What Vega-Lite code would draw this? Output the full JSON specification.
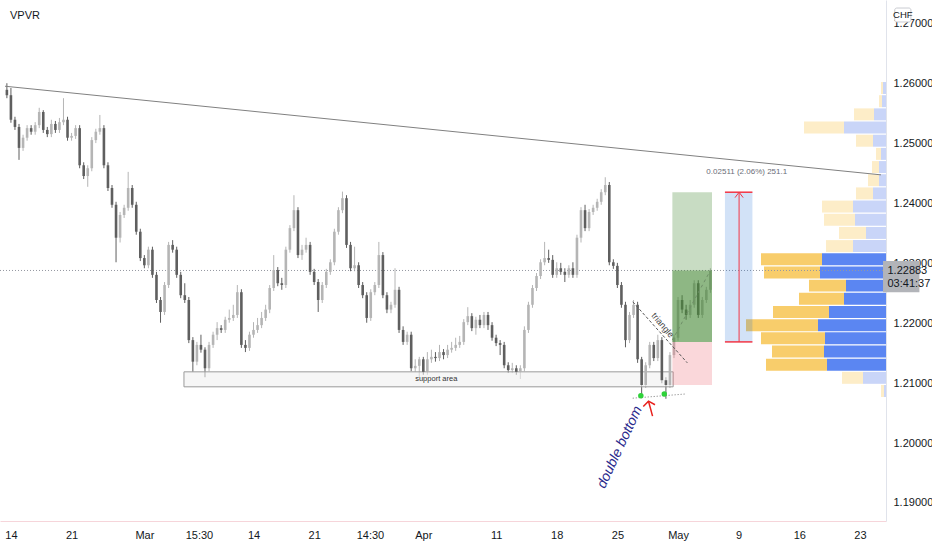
{
"$schema": "https://vega.github.io/schema/vega-lite/v6.json",
"width": 886, "height": 521,
"autosize": {"type": "none"},
"padding": {"left": 0, "top": 0, "right": 46, "bottom": 29},
"background": "#ffffff",
"config": {"view": {"stroke": null}, "font": "Liberation Sans Narrow, Liberation Sans, sans-serif", "axis": {"title": null, "grid": false}},
"datasets": {
"candles": [
{"t":0,"o":1.2590,"h":1.2601,"l":1.2576,"c":1.2581},
{"t":1,"o":1.2581,"h":1.2593,"l":1.2535,"c":1.2540},
{"t":2,"o":1.2540,"h":1.2545,"l":1.2523,"c":1.2528},
{"t":3,"o":1.2528,"h":1.2533,"l":1.2473,"c":1.2493},
{"t":4,"o":1.2493,"h":1.2515,"l":1.2488,"c":1.2510},
{"t":5,"o":1.2510,"h":1.2531,"l":1.2505,"c":1.2526},
{"t":6,"o":1.2526,"h":1.2531,"l":1.2515,"c":1.2520},
{"t":7,"o":1.2520,"h":1.2536,"l":1.2515,"c":1.2531},
{"t":8,"o":1.2531,"h":1.2560,"l":1.2526,"c":1.2553},
{"t":9,"o":1.2553,"h":1.2556,"l":1.2518,"c":1.2523},
{"t":10,"o":1.2523,"h":1.2528,"l":1.2511,"c":1.2516},
{"t":11,"o":1.2516,"h":1.2540,"l":1.2511,"c":1.2533},
{"t":12,"o":1.2533,"h":1.2538,"l":1.2518,"c":1.2523},
{"t":13,"o":1.2523,"h":1.2543,"l":1.2518,"c":1.2536},
{"t":14,"o":1.2536,"h":1.2576,"l":1.2531,"c":1.2540},
{"t":15,"o":1.2540,"h":1.2545,"l":1.2505,"c":1.2510},
{"t":16,"o":1.2510,"h":1.2518,"l":1.2505,"c":1.2513},
{"t":17,"o":1.2513,"h":1.2531,"l":1.2508,"c":1.2526},
{"t":18,"o":1.2526,"h":1.2531,"l":1.2459,"c":1.2464},
{"t":19,"o":1.2464,"h":1.2469,"l":1.2441,"c":1.2446},
{"t":20,"o":1.2446,"h":1.2464,"l":1.2428,"c":1.2459},
{"t":21,"o":1.2459,"h":1.2511,"l":1.2454,"c":1.2506},
{"t":22,"o":1.2506,"h":1.2525,"l":1.2501,"c":1.2520},
{"t":23,"o":1.2520,"h":1.2548,"l":1.2515,"c":1.2526},
{"t":24,"o":1.2526,"h":1.2531,"l":1.2459,"c":1.2464},
{"t":25,"o":1.2464,"h":1.2469,"l":1.2421,"c":1.2426},
{"t":26,"o":1.2426,"h":1.2431,"l":1.2393,"c":1.2398},
{"t":27,"o":1.2398,"h":1.2403,"l":1.2302,"c":1.2343},
{"t":28,"o":1.2343,"h":1.2386,"l":1.2335,"c":1.2381},
{"t":29,"o":1.2381,"h":1.2398,"l":1.2376,"c":1.2393},
{"t":30,"o":1.2393,"h":1.2453,"l":1.2388,"c":1.2426},
{"t":31,"o":1.2426,"h":1.2431,"l":1.2393,"c":1.2398},
{"t":32,"o":1.2398,"h":1.2403,"l":1.2348,"c":1.2353},
{"t":33,"o":1.2353,"h":1.2358,"l":1.2304,"c":1.2309},
{"t":34,"o":1.2309,"h":1.2314,"l":1.2292,"c":1.2297},
{"t":35,"o":1.2297,"h":1.2328,"l":1.2292,"c":1.2323},
{"t":36,"o":1.2323,"h":1.2328,"l":1.2276,"c":1.2281},
{"t":37,"o":1.2281,"h":1.2286,"l":1.2234,"c":1.2239},
{"t":38,"o":1.2239,"h":1.2244,"l":1.2201,"c":1.2219},
{"t":39,"o":1.2219,"h":1.2269,"l":1.2214,"c":1.2264},
{"t":40,"o":1.2264,"h":1.2336,"l":1.2259,"c":1.2331},
{"t":41,"o":1.2331,"h":1.2339,"l":1.2318,"c":1.2323},
{"t":42,"o":1.2323,"h":1.2328,"l":1.2276,"c":1.2281},
{"t":43,"o":1.2281,"h":1.2286,"l":1.2242,"c":1.2247},
{"t":44,"o":1.2247,"h":1.2267,"l":1.2234,"c":1.2239},
{"t":45,"o":1.2239,"h":1.2244,"l":1.2167,"c":1.2172},
{"t":46,"o":1.2172,"h":1.2177,"l":1.2119,"c":1.2136},
{"t":47,"o":1.2136,"h":1.2169,"l":1.2130,"c":1.2164},
{"t":48,"o":1.2164,"h":1.2181,"l":1.2151,"c":1.2156},
{"t":49,"o":1.2156,"h":1.2160,"l":1.2110,"c":1.2125},
{"t":50,"o":1.2125,"h":1.2169,"l":1.2120,"c":1.2164},
{"t":51,"o":1.2164,"h":1.2186,"l":1.2159,"c":1.2181},
{"t":52,"o":1.2181,"h":1.2202,"l":1.2172,"c":1.2192},
{"t":53,"o":1.2192,"h":1.2197,"l":1.2184,"c":1.2189},
{"t":54,"o":1.2189,"h":1.2211,"l":1.2184,"c":1.2206},
{"t":55,"o":1.2206,"h":1.2223,"l":1.2201,"c":1.2209},
{"t":56,"o":1.2209,"h":1.2231,"l":1.2204,"c":1.2214},
{"t":57,"o":1.2214,"h":1.2264,"l":1.2209,"c":1.2252},
{"t":58,"o":1.2252,"h":1.2257,"l":1.2159,"c":1.2164},
{"t":59,"o":1.2164,"h":1.2172,"l":1.2152,"c":1.2159},
{"t":60,"o":1.2159,"h":1.2186,"l":1.2154,"c":1.2181},
{"t":61,"o":1.2181,"h":1.2202,"l":1.2176,"c":1.2189},
{"t":62,"o":1.2189,"h":1.2209,"l":1.2184,"c":1.2197},
{"t":63,"o":1.2197,"h":1.2219,"l":1.2192,"c":1.2209},
{"t":64,"o":1.2209,"h":1.2231,"l":1.2204,"c":1.2223},
{"t":65,"o":1.2223,"h":1.2264,"l":1.2217,"c":1.2259},
{"t":66,"o":1.2259,"h":1.2314,"l":1.2254,"c":1.2289},
{"t":67,"o":1.2289,"h":1.2294,"l":1.2262,"c":1.2267},
{"t":68,"o":1.2267,"h":1.2276,"l":1.2256,"c":1.2264},
{"t":69,"o":1.2264,"h":1.2328,"l":1.2259,"c":1.2323},
{"t":70,"o":1.2323,"h":1.2364,"l":1.2318,"c":1.2359},
{"t":71,"o":1.2359,"h":1.2414,"l":1.2354,"c":1.2389},
{"t":72,"o":1.2389,"h":1.2394,"l":1.2309,"c":1.2314},
{"t":73,"o":1.2314,"h":1.2331,"l":1.2306,"c":1.2323},
{"t":74,"o":1.2323,"h":1.2343,"l":1.2318,"c":1.2331},
{"t":75,"o":1.2331,"h":1.2336,"l":1.2281,"c":1.2286},
{"t":76,"o":1.2286,"h":1.2291,"l":1.2264,"c":1.2269},
{"t":77,"o":1.2269,"h":1.2274,"l":1.2219,"c":1.2239},
{"t":78,"o":1.2239,"h":1.2269,"l":1.2234,"c":1.2264},
{"t":79,"o":1.2264,"h":1.2291,"l":1.2259,"c":1.2286},
{"t":80,"o":1.2286,"h":1.2307,"l":1.2281,"c":1.2302},
{"t":81,"o":1.2302,"h":1.2358,"l":1.2297,"c":1.2353},
{"t":82,"o":1.2353,"h":1.2394,"l":1.2348,"c":1.2389},
{"t":83,"o":1.2389,"h":1.2420,"l":1.2384,"c":1.2409},
{"t":84,"o":1.2409,"h":1.2414,"l":1.2326,"c":1.2331},
{"t":85,"o":1.2331,"h":1.2336,"l":1.2287,"c":1.2292},
{"t":86,"o":1.2292,"h":1.2328,"l":1.2287,"c":1.2297},
{"t":87,"o":1.2297,"h":1.2302,"l":1.2259,"c":1.2264},
{"t":88,"o":1.2264,"h":1.2269,"l":1.2242,"c":1.2247},
{"t":89,"o":1.2247,"h":1.2252,"l":1.2201,"c":1.2209},
{"t":90,"o":1.2209,"h":1.2257,"l":1.2204,"c":1.2252},
{"t":91,"o":1.2252,"h":1.2269,"l":1.2247,"c":1.2264},
{"t":92,"o":1.2264,"h":1.2336,"l":1.2259,"c":1.2314},
{"t":93,"o":1.2314,"h":1.2319,"l":1.2242,"c":1.2247},
{"t":94,"o":1.2247,"h":1.2252,"l":1.2217,"c":1.2223},
{"t":95,"o":1.2223,"h":1.2236,"l":1.2217,"c":1.2231},
{"t":96,"o":1.2231,"h":1.2292,"l":1.2226,"c":1.2256},
{"t":97,"o":1.2256,"h":1.2261,"l":1.2184,"c":1.2189},
{"t":98,"o":1.2189,"h":1.2195,"l":1.2164,"c":1.2169},
{"t":99,"o":1.2169,"h":1.2186,"l":1.2164,"c":1.2181},
{"t":100,"o":1.2181,"h":1.2186,"l":1.2120,"c":1.2125},
{"t":101,"o":1.2125,"h":1.2140,"l":1.2119,"c":1.2129},
{"t":102,"o":1.2129,"h":1.2144,"l":1.2110,"c":1.2140},
{"t":103,"o":1.2140,"h":1.2144,"l":1.2114,"c":1.2119},
{"t":104,"o":1.2119,"h":1.2152,"l":1.2114,"c":1.2140},
{"t":105,"o":1.2140,"h":1.2156,"l":1.2134,"c":1.2144},
{"t":106,"o":1.2144,"h":1.2152,"l":1.2136,"c":1.2142},
{"t":107,"o":1.2142,"h":1.2164,"l":1.2137,"c":1.2152},
{"t":108,"o":1.2152,"h":1.2157,"l":1.2140,"c":1.2147},
{"t":109,"o":1.2147,"h":1.2164,"l":1.2142,"c":1.2156},
{"t":110,"o":1.2156,"h":1.2169,"l":1.2151,"c":1.2159},
{"t":111,"o":1.2159,"h":1.2176,"l":1.2154,"c":1.2164},
{"t":112,"o":1.2164,"h":1.2179,"l":1.2159,"c":1.2169},
{"t":113,"o":1.2169,"h":1.2207,"l":1.2164,"c":1.2202},
{"t":114,"o":1.2202,"h":1.2227,"l":1.2197,"c":1.2212},
{"t":115,"o":1.2212,"h":1.2217,"l":1.2187,"c":1.2192},
{"t":116,"o":1.2192,"h":1.2211,"l":1.2181,"c":1.2206},
{"t":117,"o":1.2206,"h":1.2214,"l":1.2192,"c":1.2197},
{"t":118,"o":1.2197,"h":1.2219,"l":1.2192,"c":1.2214},
{"t":119,"o":1.2214,"h":1.2219,"l":1.2189,"c":1.2197},
{"t":120,"o":1.2197,"h":1.2202,"l":1.2171,"c":1.2176},
{"t":121,"o":1.2176,"h":1.2181,"l":1.2162,"c":1.2167},
{"t":122,"o":1.2167,"h":1.2172,"l":1.2147,"c":1.2164},
{"t":123,"o":1.2164,"h":1.2169,"l":1.2125,"c":1.2130},
{"t":124,"o":1.2130,"h":1.2135,"l":1.2117,"c":1.2122},
{"t":125,"o":1.2122,"h":1.2134,"l":1.2117,"c":1.2125},
{"t":126,"o":1.2125,"h":1.2130,"l":1.2114,"c":1.2119},
{"t":127,"o":1.2119,"h":1.2130,"l":1.2107,"c":1.2125},
{"t":128,"o":1.2125,"h":1.2195,"l":1.2120,"c":1.2189},
{"t":129,"o":1.2189,"h":1.2236,"l":1.2184,"c":1.2231},
{"t":130,"o":1.2231,"h":1.2264,"l":1.2226,"c":1.2259},
{"t":131,"o":1.2259,"h":1.2284,"l":1.2254,"c":1.2279},
{"t":132,"o":1.2279,"h":1.2307,"l":1.2274,"c":1.2302},
{"t":133,"o":1.2302,"h":1.2336,"l":1.2297,"c":1.2309},
{"t":134,"o":1.2309,"h":1.2323,"l":1.2301,"c":1.2306},
{"t":135,"o":1.2306,"h":1.2314,"l":1.2276,"c":1.2281},
{"t":136,"o":1.2281,"h":1.2302,"l":1.2276,"c":1.2292},
{"t":137,"o":1.2292,"h":1.2301,"l":1.2281,"c":1.2286},
{"t":138,"o":1.2286,"h":1.2292,"l":1.2269,"c":1.2281},
{"t":139,"o":1.2281,"h":1.2297,"l":1.2276,"c":1.2292},
{"t":140,"o":1.2292,"h":1.2302,"l":1.2276,"c":1.2281},
{"t":141,"o":1.2281,"h":1.2348,"l":1.2276,"c":1.2343},
{"t":142,"o":1.2343,"h":1.2394,"l":1.2335,"c":1.2389},
{"t":143,"o":1.2389,"h":1.2398,"l":1.2354,"c":1.2359},
{"t":144,"o":1.2359,"h":1.2391,"l":1.2354,"c":1.2386},
{"t":145,"o":1.2386,"h":1.2398,"l":1.2381,"c":1.2393},
{"t":146,"o":1.2393,"h":1.2408,"l":1.2388,"c":1.2403},
{"t":147,"o":1.2403,"h":1.2424,"l":1.2398,"c":1.2419},
{"t":148,"o":1.2419,"h":1.2444,"l":1.2414,"c":1.2431},
{"t":149,"o":1.2431,"h":1.2436,"l":1.2297,"c":1.2302},
{"t":150,"o":1.2302,"h":1.2307,"l":1.2291,"c":1.2296},
{"t":151,"o":1.2296,"h":1.2301,"l":1.2259,"c":1.2264},
{"t":152,"o":1.2264,"h":1.2269,"l":1.2226,"c":1.2231},
{"t":153,"o":1.2231,"h":1.2236,"l":1.2160,"c":1.2172},
{"t":154,"o":1.2172,"h":1.2219,"l":1.2167,"c":1.2214},
{"t":155,"o":1.2214,"h":1.2239,"l":1.2209,"c":1.2231},
{"t":156,"o":1.2231,"h":1.2236,"l":1.2134,"c":1.2140},
{"t":157,"o":1.2140,"h":1.2144,"l":1.2075,"c":1.2097},
{"t":158,"o":1.2097,"h":1.2135,"l":1.2092,"c":1.2130},
{"t":159,"o":1.2130,"h":1.2169,"l":1.2125,"c":1.2164},
{"t":160,"o":1.2164,"h":1.2169,"l":1.2137,"c":1.2142},
{"t":161,"o":1.2142,"h":1.2181,"l":1.2137,"c":1.2172},
{"t":162,"o":1.2172,"h":1.2177,"l":1.2100,"c":1.2105},
{"t":163,"o":1.2105,"h":1.2110,"l":1.2074,"c":1.2097},
{"t":164,"o":1.2097,"h":1.2152,"l":1.2092,"c":1.2147},
{"t":165,"o":1.2147,"h":1.2181,"l":1.2142,"c":1.2176},
{"t":166,"o":1.2176,"h":1.2244,"l":1.2171,"c":1.2239},
{"t":167,"o":1.2239,"h":1.2247,"l":1.2217,"c":1.2223},
{"t":168,"o":1.2223,"h":1.2231,"l":1.2206,"c":1.2214},
{"t":169,"o":1.2214,"h":1.2239,"l":1.2209,"c":1.2231},
{"t":170,"o":1.2231,"h":1.2272,"l":1.2226,"c":1.2267},
{"t":171,"o":1.2267,"h":1.2272,"l":1.2209,"c":1.2214},
{"t":172,"o":1.2214,"h":1.2244,"l":1.2209,"c":1.2239},
{"t":173,"o":1.2239,"h":1.2261,"l":1.2234,"c":1.2256},
{"t":174,"o":1.2256,"h":1.2292,"l":1.2251,"c":1.22883}
],
"vp": [
{"hi":1.2603,"lo":1.2583,"b":3,"tot":5,"va":false},
{"hi":1.2581,"lo":1.2561,"b":4,"tot":7,"va":false},
{"hi":1.2559,"lo":1.2539,"b":12,"tot":32,"va":false},
{"hi":1.2537,"lo":1.2517,"b":42,"tot":82,"va":false},
{"hi":1.2515,"lo":1.2495,"b":13,"tot":30,"va":false},
{"hi":1.2493,"lo":1.2473,"b":5,"tot":10,"va":false},
{"hi":1.2471,"lo":1.2451,"b":7,"tot":14,"va":false},
{"hi":1.2449,"lo":1.2429,"b":7,"tot":18,"va":false},
{"hi":1.2427,"lo":1.2407,"b":13,"tot":30,"va":false},
{"hi":1.2405,"lo":1.2385,"b":33,"tot":64,"va":false},
{"hi":1.2383,"lo":1.2363,"b":31,"tot":62,"va":false},
{"hi":1.2361,"lo":1.2341,"b":20,"tot":47,"va":false},
{"hi":1.2339,"lo":1.2319,"b":33,"tot":60,"va":false},
{"hi":1.2317,"lo":1.2297,"b":64,"tot":125,"va":true},
{"hi":1.2295,"lo":1.2275,"b":66,"tot":122,"va":true},
{"hi":1.2273,"lo":1.2253,"b":40,"tot":77,"va":true},
{"hi":1.2251,"lo":1.2231,"b":42,"tot":87,"va":true},
{"hi":1.2229,"lo":1.2209,"b":57,"tot":113,"va":true},
{"hi":1.2207,"lo":1.2187,"b":68,"tot":140,"va":true},
{"hi":1.2185,"lo":1.2165,"b":61,"tot":125,"va":true},
{"hi":1.2163,"lo":1.2143,"b":62,"tot":114,"va":true},
{"hi":1.2141,"lo":1.2121,"b":59,"tot":120,"va":true},
{"hi":1.2119,"lo":1.2099,"b":23,"tot":44,"va":false},
{"hi":1.2097,"lo":1.2077,"b":2,"tot":5,"va":false}
]
},
"layer": [
{"layer": [
 {"data": {"name": "vp"}, "mark": {"type": "rect"},
  "encoding": {
   "x": {"field": "b", "type": "quantitative", "scale": {"domain": [0, 886], "reverse": true, "nice": false, "zero": false}, "axis": null},
   "x2": {"datum": 0},
   "y": {"field": "lo", "type": "quantitative", "scale": {"domain": [1.18699, 1.274], "nice": false, "zero": false}},
   "y2": {"field": "hi"},
   "color": {"condition": {"test": "datum.va", "value": "#5b86f2"}, "value": "#c9d5f8"}}},
 {"data": {"name": "vp"}, "mark": {"type": "rect"},
  "encoding": {
   "x": {"field": "b", "type": "quantitative", "scale": {"domain": [0, 886], "reverse": true, "nice": false, "zero": false}, "axis": null},
   "x2": {"field": "tot"},
   "y": {"field": "lo", "type": "quantitative", "scale": {"domain": [1.18699, 1.274], "nice": false, "zero": false}},
   "y2": {"field": "hi"},
   "color": {"condition": {"test": "datum.va", "value": "#f8cd6b"}, "value": "#fdedc8"}}}
]},
{"layer": [
 {"data": {"name": "candles"}, "mark": {"type": "rule", "strokeWidth": 1},
  "encoding": {
   "x": {"field": "t", "type": "quantitative", "scale": {"domain": [-0.465, 216.2], "nice": false, "zero": false},
     "axis": {"orient": "bottom", "values": [1,16,34,47.5,61,76,89.8,103,121,136,151,166,181,196,211],
       "labelExpr": "['14','21','Mar','15:30','14','21','14:30','Apr','11','18','25','May','9','16','23'][indexof([1,16,34,47.5,61,76,89.8,103,121,136,151,166,181,196,211], datum.value)]",
       "ticks": false, "domainColor": "#f6d5da", "labelColor": "#131722", "labelFontSize": 11, "labelPadding": 8,
       "labelOverlap": false, "labelFlush": false, "labelBound": false, "grid": false, "title": null}},
   "y": {"field": "l", "type": "quantitative", "scale": {"domain": [1.18699, 1.274], "nice": false, "zero": false},
     "axis": {"orient": "right", "values": [1.19,1.2,1.21,1.22,1.23,1.24,1.25,1.26,1.27], "format": ".5f",
       "ticks": false, "domainColor": "#e0e3eb", "labelColor": "#131722", "labelFontSize": 11, "labelPadding": 7,
       "labelOverlap": false, "labelFlush": false, "labelBound": false, "grid": false, "title": null}},
   "y2": {"field": "h"},
   "color": {"condition": {"test": "datum.c >= datum.o", "value": "#b5b5b5"}, "value": "#5f5f5f"}}},
 {"data": {"values": [{"p": 1.22883}]}, "mark": {"type": "rule", "strokeDash": [1, 2], "color": "#9598a1", "strokeWidth": 1},
  "encoding": {"y": {"field": "p", "type": "quantitative", "scale": {"domain": [1.18699, 1.274], "nice": false, "zero": false}}}},
 {"data": {"values": [{"k1": 43.8, "k2": 164.8, "p1": 1.2094, "p2": 1.2119}]},
  "mark": {"type": "rect", "fill": "#eeeeee", "fillOpacity": 0.55, "stroke": "#9a9a9a", "strokeWidth": 1},
  "encoding": {
   "x": {"field": "k1", "type": "quantitative", "scale": {"domain": [-0.465, 216.2], "nice": false, "zero": false}},
   "x2": {"field": "k2"},
   "y": {"field": "p1", "type": "quantitative", "scale": {"domain": [1.18699, 1.274], "nice": false, "zero": false}},
   "y2": {"field": "p2"}}},
 {"data": {"name": "candles"}, "mark": {"type": "bar", "size": 2.6},
  "encoding": {
   "x": {"field": "t", "type": "quantitative", "scale": {"domain": [-0.465, 216.2], "nice": false, "zero": false}},
   "y": {"field": "o", "type": "quantitative", "scale": {"domain": [1.18699, 1.274], "nice": false, "zero": false}},
   "y2": {"field": "c"},
   "color": {"condition": {"test": "datum.c >= datum.o", "value": "#b5b5b5"}, "value": "#5f5f5f"}}},
 {"data": {"values": [{"k1": 164.6, "k2": 174.4, "p1": 1.2169, "p2": 1.2419}]},
  "mark": {"type": "rect", "fill": "#488a37", "fillOpacity": 0.3},
  "encoding": {
   "x": {"field": "k1", "type": "quantitative", "scale": {"domain": [-0.465, 216.2], "nice": false, "zero": false}},
   "x2": {"field": "k2"},
   "y": {"field": "p1", "type": "quantitative", "scale": {"domain": [1.18699, 1.274], "nice": false, "zero": false}},
   "y2": {"field": "p2"}}},
 {"data": {"values": [{"k1": 164.6, "k2": 174.4, "p1": 1.2169, "p2": 1.22883}]},
  "mark": {"type": "rect", "fill": "#488a37", "fillOpacity": 0.45},
  "encoding": {
   "x": {"field": "k1", "type": "quantitative", "scale": {"domain": [-0.465, 216.2], "nice": false, "zero": false}},
   "x2": {"field": "k2"},
   "y": {"field": "p1", "type": "quantitative", "scale": {"domain": [1.18699, 1.274], "nice": false, "zero": false}},
   "y2": {"field": "p2"}}},
 {"data": {"values": [{"k1": 164.6, "k2": 174.4, "p1": 1.2097, "p2": 1.2169}]},
  "mark": {"type": "rect", "fill": "#ee7a84", "fillOpacity": 0.3},
  "encoding": {
   "x": {"field": "k1", "type": "quantitative", "scale": {"domain": [-0.465, 216.2], "nice": false, "zero": false}},
   "x2": {"field": "k2"},
   "y": {"field": "p1", "type": "quantitative", "scale": {"domain": [1.18699, 1.274], "nice": false, "zero": false}},
   "y2": {"field": "p2"}}},
 {"data": {"values": [{"k1": 177.6, "k2": 184.4, "p1": 1.2169, "p2": 1.2419}]},
  "mark": {"type": "rect", "fill": "#1e6fd9", "fillOpacity": 0.2},
  "encoding": {
   "x": {"field": "k1", "type": "quantitative", "scale": {"domain": [-0.465, 216.2], "nice": false, "zero": false}},
   "x2": {"field": "k2"},
   "y": {"field": "p1", "type": "quantitative", "scale": {"domain": [1.18699, 1.274], "nice": false, "zero": false}},
   "y2": {"field": "p2"}}},
 {"data": {"values": [{"k1": 177.6, "k2": 184.4, "p": 1.2419}, {"k1": 177.6, "k2": 184.4, "p": 1.2169}]},
  "mark": {"type": "rule", "color": "#f23645", "strokeWidth": 1.5},
  "encoding": {
   "x": {"field": "k1", "type": "quantitative", "scale": {"domain": [-0.465, 216.2], "nice": false, "zero": false}},
   "x2": {"field": "k2"},
   "y": {"field": "p", "type": "quantitative", "scale": {"domain": [1.18699, 1.274], "nice": false, "zero": false}}}},
 {"data": {"values": [{"k": 181.1, "p1": 1.2169, "p2": 1.2419}]},
  "mark": {"type": "rule", "color": "#f23645", "strokeWidth": 1},
  "encoding": {
   "x": {"field": "k", "type": "quantitative", "scale": {"domain": [-0.465, 216.2], "nice": false, "zero": false}},
   "y": {"field": "p1", "type": "quantitative", "scale": {"domain": [1.18699, 1.274], "nice": false, "zero": false}},
   "y2": {"field": "p2"}}},
 {"data": {"values": [{"o": 1, "k": 180.1, "p": 1.2410}, {"o": 2, "k": 181.1, "p": 1.2419}, {"o": 3, "k": 182.1, "p": 1.2410}]},
  "mark": {"type": "line", "color": "#f23645", "strokeWidth": 1},
  "encoding": {
   "x": {"field": "k", "type": "quantitative", "scale": {"domain": [-0.465, 216.2], "nice": false, "zero": false}},
   "y": {"field": "p", "type": "quantitative", "scale": {"domain": [1.18699, 1.274], "nice": false, "zero": false}},
   "order": {"field": "o"}}},
 {"data": {"values": [{"k": -0.465, "p": 1.2596}, {"k": 216.2, "p": 1.2448}]},
  "mark": {"type": "line", "color": "#808080", "strokeWidth": 1},
  "encoding": {
   "x": {"field": "k", "type": "quantitative", "scale": {"domain": [-0.465, 216.2], "nice": false, "zero": false}},
   "y": {"field": "p", "type": "quantitative", "scale": {"domain": [1.18699, 1.274], "nice": false, "zero": false}}}},
 {"data": {"values": [{"k": 154.8, "p": 1.2236}, {"k": 168.3, "p": 1.2134}]},
  "mark": {"type": "line", "color": "#555555", "strokeWidth": 1, "strokeDash": [3, 2]},
  "encoding": {
   "x": {"field": "k", "type": "quantitative", "scale": {"domain": [-0.465, 216.2], "nice": false, "zero": false}},
   "y": {"field": "p", "type": "quantitative", "scale": {"domain": [1.18699, 1.274], "nice": false, "zero": false}}}},
 {"data": {"values": [{"k": 154.8, "p": 1.2075}, {"k": 167.8, "p": 1.2082}]},
  "mark": {"type": "line", "color": "#777777", "strokeWidth": 1, "strokeDash": [1, 2]},
  "encoding": {
   "x": {"field": "k", "type": "quantitative", "scale": {"domain": [-0.465, 216.2], "nice": false, "zero": false}},
   "y": {"field": "p", "type": "quantitative", "scale": {"domain": [1.18699, 1.274], "nice": false, "zero": false}}}},
 {"data": {"values": [{"k": 164.6, "p": 1.2172}, {"k": 173.9, "p": 1.2287}]},
  "mark": {"type": "line", "color": "#6f8f68", "strokeWidth": 1, "strokeDash": [3, 3]},
  "encoding": {
   "x": {"field": "k", "type": "quantitative", "scale": {"domain": [-0.465, 216.2], "nice": false, "zero": false}},
   "y": {"field": "p", "type": "quantitative", "scale": {"domain": [1.18699, 1.274], "nice": false, "zero": false}}}},
 {"data": {"values": [{"k": 156.8, "p": 1.2079}, {"k": 162.6, "p": 1.2082}]},
  "mark": {"type": "point", "filled": true, "color": "#2fd23a", "size": 30, "opacity": 1},
  "encoding": {
   "x": {"field": "k", "type": "quantitative", "scale": {"domain": [-0.465, 216.2], "nice": false, "zero": false}},
   "y": {"field": "p", "type": "quantitative", "scale": {"domain": [1.18699, 1.274], "nice": false, "zero": false}}}},
 {"data": {"values": [{"s": 1, "o": 1, "k": 159.7, "p": 1.2045}, {"s": 1, "o": 2, "k": 158.7, "p": 1.2070}, {"s": 2, "o": 1, "k": 157.4, "p": 1.2061}, {"s": 2, "o": 2, "k": 158.7, "p": 1.2070}, {"s": 2, "o": 3, "k": 160.3, "p": 1.2064}]},
  "mark": {"type": "line", "color": "#e8211d", "strokeWidth": 1.5},
  "encoding": {
   "x": {"field": "k", "type": "quantitative", "scale": {"domain": [-0.465, 216.2], "nice": false, "zero": false}},
   "y": {"field": "p", "type": "quantitative", "scale": {"domain": [1.18699, 1.274], "nice": false, "zero": false}},
   "detail": {"field": "s"},
   "order": {"field": "o"}}},
 {"data": {"values": [{"k": 106.2, "p": 1.2107, "txt": "support area"}]},
  "mark": {"type": "text", "fontSize": 7.5, "color": "#333333", "align": "center", "baseline": "middle", "font": "Liberation Sans, sans-serif"},
  "encoding": {
   "x": {"field": "k", "type": "quantitative", "scale": {"domain": [-0.465, 216.2], "nice": false, "zero": false}},
   "y": {"field": "p", "type": "quantitative", "scale": {"domain": [1.18699, 1.274], "nice": false, "zero": false}},
   "text": {"field": "txt"}}},
 {"data": {"values": [{"k": 183.0, "p": 1.2453, "txt": "0.02511 (2.06%) 251.1"}]},
  "mark": {"type": "text", "fontSize": 8, "color": "#6a6d78", "align": "center", "baseline": "middle", "font": "Liberation Sans, sans-serif"},
  "encoding": {
   "x": {"field": "k", "type": "quantitative", "scale": {"domain": [-0.465, 216.2], "nice": false, "zero": false}},
   "y": {"field": "p", "type": "quantitative", "scale": {"domain": [1.18699, 1.274], "nice": false, "zero": false}},
   "text": {"field": "txt"}}},
 {"data": {"values": [{"k": 162.2, "p": 1.2197, "txt": "triangle"}]},
  "mark": {"type": "text", "fontSize": 9, "color": "#444444", "align": "center", "baseline": "middle", "angle": 50, "font": "Liberation Sans, sans-serif"},
  "encoding": {
   "x": {"field": "k", "type": "quantitative", "scale": {"domain": [-0.465, 216.2], "nice": false, "zero": false}},
   "y": {"field": "p", "type": "quantitative", "scale": {"domain": [1.18699, 1.274], "nice": false, "zero": false}},
   "text": {"field": "txt"}}},
 {"data": {"values": [{"k": 151.6, "p": 1.1993, "txt": "double bottom"}]},
  "mark": {"type": "text", "fontSize": 14, "fontStyle": "italic", "color": "#2a2a8c", "align": "center", "baseline": "middle", "angle": -65, "font": "Liberation Sans, sans-serif"},
  "encoding": {
   "x": {"field": "k", "type": "quantitative", "scale": {"domain": [-0.465, 216.2], "nice": false, "zero": false}},
   "y": {"field": "p", "type": "quantitative", "scale": {"domain": [1.18699, 1.274], "nice": false, "zero": false}},
   "text": {"field": "txt"}}},
 {"data": {"values": [{"k": 0.76, "p": 1.2713, "txt": "VPVR"}]},
  "mark": {"type": "text", "fontSize": 11, "color": "#131722", "align": "left", "baseline": "middle"},
  "encoding": {
   "x": {"field": "k", "type": "quantitative", "scale": {"domain": [-0.465, 216.2], "nice": false, "zero": false}},
   "y": {"field": "p", "type": "quantitative", "scale": {"domain": [1.18699, 1.274], "nice": false, "zero": false}},
   "text": {"field": "txt"}}},
 {"data": {"values": [{"k1": 216.7, "k2": 225.7, "p1": 1.2252, "p2": 1.2304}]},
  "mark": {"type": "rect", "fill": "#b2b4b9", "clip": false},
  "encoding": {
   "x": {"field": "k1", "type": "quantitative", "scale": {"domain": [-0.465, 216.2], "nice": false, "zero": false}},
   "x2": {"field": "k2"},
   "y": {"field": "p1", "type": "quantitative", "scale": {"domain": [1.18699, 1.274], "nice": false, "zero": false}},
   "y2": {"field": "p2"}}},
 {"data": {"values": [{"k": 217.8, "p": 1.2287, "txt": "1.22883"}, {"k": 217.8, "p": 1.2266, "txt": "03:41:37"}]},
  "mark": {"type": "text", "fontSize": 11, "color": "#131722", "align": "left", "baseline": "middle", "clip": false},
  "encoding": {
   "x": {"field": "k", "type": "quantitative", "scale": {"domain": [-0.465, 216.2], "nice": false, "zero": false}},
   "y": {"field": "p", "type": "quantitative", "scale": {"domain": [1.18699, 1.274], "nice": false, "zero": false}},
   "text": {"field": "txt"}}},
 {"data": {"values": [{"k1": 219.6, "k2": 223.6, "p1": 1.27033, "p2": 1.27266}]},
  "mark": {"type": "rect", "fill": "#ffffff", "stroke": "#c9cbd1", "strokeWidth": 1, "cornerRadius": 2, "clip": false},
  "encoding": {
   "x": {"field": "k1", "type": "quantitative", "scale": {"domain": [-0.465, 216.2], "nice": false, "zero": false}},
   "x2": {"field": "k2"},
   "y": {"field": "p1", "type": "quantitative", "scale": {"domain": [1.18699, 1.274], "nice": false, "zero": false}},
   "y2": {"field": "p2"}}},
 {"data": {"values": [{"k": 221.6, "p": 1.2715, "txt": "CHF"}]},
  "mark": {"type": "text", "fontSize": 9.5, "color": "#131722", "align": "center", "baseline": "middle", "clip": false},
  "encoding": {
   "x": {"field": "k", "type": "quantitative", "scale": {"domain": [-0.465, 216.2], "nice": false, "zero": false}},
   "y": {"field": "p", "type": "quantitative", "scale": {"domain": [1.18699, 1.274], "nice": false, "zero": false}},
   "text": {"field": "txt"}}}
]}
],
"resolve": {"scale": {"x": "independent"}}
}
